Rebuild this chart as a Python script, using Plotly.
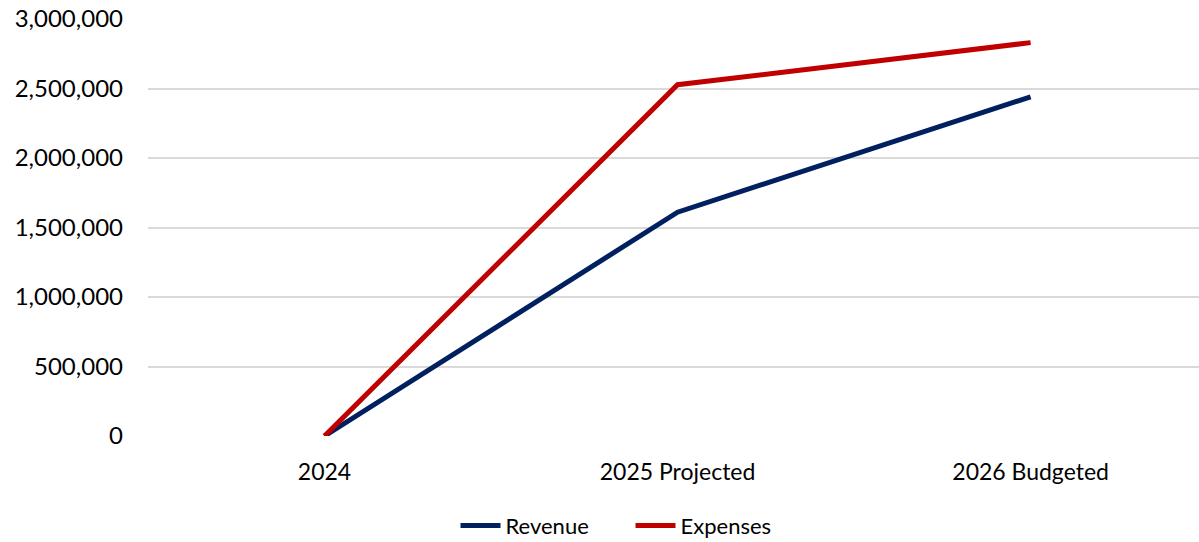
import plotly.graph_objects as go

categories = ["2024", "2025 Projected", "2026 Budgeted"]
revenue = [0, 1610000, 2440000]
expenses = [0, 2527000, 2830000]
y_ticks = [0, 500000, 1000000, 1500000, 2000000, 2500000, 3000000]

FONT = "Lato"

fig = go.Figure()
fig.add_trace(go.Scatter(x=categories, y=revenue, name="Revenue", mode="lines",
                         line=dict(color="#002060", width=5), cliponaxis=False))
fig.add_trace(go.Scatter(x=categories, y=expenses, name="Expenses", mode="lines",
                         line=dict(color="#C00000", width=5), cliponaxis=False))

fig.update_layout(
    width=1199, height=542,
    margin=dict(l=148, r=0, t=19, b=106, autoexpand=False),
    paper_bgcolor="white", plot_bgcolor="white",
    font=dict(family=FONT, size=22, color="#000000"),
    showlegend=True,
    legend=dict(orientation="h", x=0.2926, xanchor="left", y=-0.215, yanchor="middle",
                font=dict(family=FONT, size=22), itemwidth=40, tracegroupgap=0,
                entrywidth=120, entrywidthmode="pixels"),
    xaxis=dict(range=[-0.5, 2.477], showgrid=False, zeroline=False, showline=False,
               ticks="", ticklabelstandoff=20, tickfont=dict(size=23)),
    yaxis=dict(range=[0, 3000000], tickvals=y_ticks, tickformat=",d",
               showgrid=True, gridcolor="#D9D9D9", gridwidth=1.5,
               zeroline=False, showline=False, ticks="", ticklabelstandoff=24,
               tickfont=dict(size=24)),
)

fig.write_html("out.html")
